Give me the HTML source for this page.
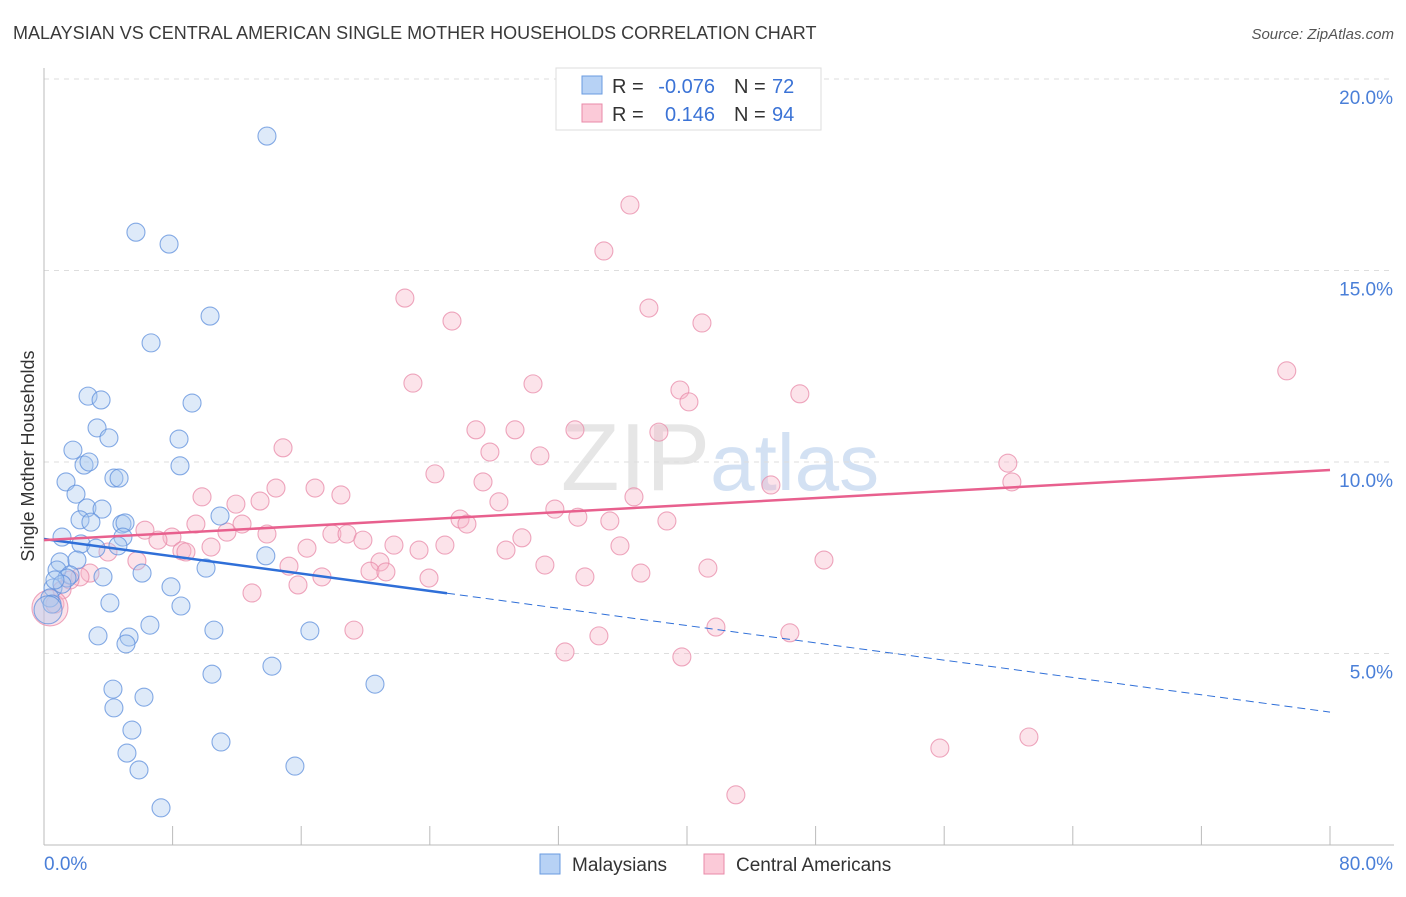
<!DOCTYPE html>
<html><head><meta charset="utf-8"><style>
body{margin:0;background:#fff;font-family:"Liberation Sans",sans-serif}
svg text{font-family:"Liberation Sans",sans-serif}
</style></head><body>
<svg id="chart" width="1406" height="892" xmlns="http://www.w3.org/2000/svg">
<text x="13" y="39" font-size="18" fill="#3a3a3a">MALAYSIAN VS CENTRAL AMERICAN SINGLE MOTHER HOUSEHOLDS CORRELATION CHART</text>
<text x="1394" y="39" font-size="15" fill="#555" text-anchor="end" font-style="italic">Source: ZipAtlas.com</text>
<text x="720" y="490" font-size="96" text-anchor="middle" fill="#e6e6e6" font-family="Liberation Serif">ZIP<tspan fill="#d3e1f3" font-family="Liberation Sans" font-size="80">atlas</tspan></text>
<g id="grid"></g><g id="axes"></g><g id="pts"></g><g id="trend"></g>
<text transform="translate(34,456) rotate(-90)" font-size="18" fill="#333" text-anchor="middle">Single Mother Households</text>
<g>
<rect x="556" y="68" width="265" height="62" fill="#fff" stroke="#ddd"/>
<rect x="582" y="76" width="20" height="18" fill="#b7d2f5" stroke="#6a9be0"/>
<rect x="582" y="104" width="20" height="18" fill="#fbcad8" stroke="#e88aa8"/>
<text x="612" y="93" font-size="20" fill="#333">R =</text>
<text x="715" y="93" font-size="20" fill="#3b73d6" text-anchor="end">-0.076</text>
<text x="734" y="93" font-size="20" fill="#333">N =</text>
<text x="772" y="93" font-size="20" fill="#3b73d6">72</text>
<text x="612" y="121" font-size="20" fill="#333">R =</text>
<text x="715" y="121" font-size="20" fill="#3b73d6" text-anchor="end">0.146</text>
<text x="734" y="121" font-size="20" fill="#333">N =</text>
<text x="772" y="121" font-size="20" fill="#3b73d6">94</text>
</g>
<g>
<rect x="540" y="854" width="20" height="20" fill="#b7d2f5" stroke="#6a9be0"/>
<text x="572" y="871" font-size="19" fill="#333">Malaysians</text>
<rect x="704" y="854" width="20" height="20" fill="#fbcad8" stroke="#e88aa8"/>
<text x="736" y="871" font-size="19" fill="#333">Central Americans</text>
</g>
</svg>
<script>
const yTicks=[5,10,15,20];
const yTickLabels=["5.0%","10.0%","15.0%","20.0%"];
const xTickVals=[0,8,16,24,32,40,48,56,64,72,80];
const blueX=[13.87,5.72,7.78,10.33,6.66,2.74,3.55,9.21,3.30,8.40,4.04,1.80,2.49,2.80,8.46,1.37,4.35,4.67,1.99,2.67,3.61,10.95,2.24,2.92,4.85,5.04,1.12,4.91,2.30,4.60,3.23,13.8,1.0,2.05,10.08,0.81,6.10,1.62,3.67,1.43,7.9,0.56,1.12,0.37,4.1,8.52,0.5,6.59,3.36,10.57,16.54,5.29,5.1,14.18,10.45,20.59,4.29,6.22,4.35,5.47,11.01,5.16,15.61,5.91,7.28,0.68,0.25];
const blueY=[18.51,16.0,15.69,13.81,13.11,11.72,11.62,11.54,10.89,10.60,10.63,10.31,9.92,10.0,9.90,9.48,9.58,9.58,9.16,8.80,8.77,8.59,8.49,8.43,8.38,8.41,8.04,8.04,7.86,7.81,7.75,7.55,7.39,7.44,7.23,7.18,7.10,7.05,7.0,6.97,6.74,6.71,6.81,6.45,6.32,6.24,6.29,5.74,5.46,5.61,5.59,5.43,5.25,4.67,4.46,4.2,4.07,3.86,3.58,3.0,2.69,2.40,2.06,1.96,0.97,6.92,6.14];
const pinkX=[36.45,34.83,22.45,37.63,25.38,40.93,77.31,22.95,30.42,39.56,47.02,40.12,26.87,29.3,33.03,38.25,14.87,27.74,30.85,59.96,24.32,60.21,27.31,14.43,16.86,45.22,9.83,18.47,36.70,28.30,11.94,13.44,31.78,25.88,33.21,35.2,38.75,9.45,26.31,12.32,6.28,11.38,13.87,17.91,18.85,7.96,7.09,19.84,29.73,24.94,21.77,10.39,16.36,23.33,35.83,28.74,8.58,8.83,3.98,5.78,48.52,20.9,31.16,15.24,41.30,20.28,21.27,37.13,17.29,33.65,23.95,15.80,12.94,2.86,2.24,1.62,1.12,0.68,0.37,19.28,41.80,46.40,34.52,32.41,39.68,55.73,61.27,43.04];
const pinkY=[16.71,15.51,14.28,14.02,13.68,13.63,12.38,12.06,12.04,11.88,11.78,11.57,10.84,10.84,10.84,10.78,10.37,10.26,10.16,9.97,9.69,9.48,9.48,9.32,9.32,9.40,9.09,9.14,9.09,8.96,8.90,8.98,8.77,8.51,8.56,8.46,8.46,8.38,8.38,8.38,8.22,8.17,8.12,8.12,8.12,8.04,7.96,7.96,8.02,7.83,7.83,7.78,7.75,7.70,7.81,7.70,7.68,7.65,7.65,7.42,7.44,7.39,7.31,7.28,7.23,7.15,7.13,7.10,7.0,7.0,6.97,6.79,6.58,7.10,7.0,6.92,6.66,6.29,6.19,5.61,5.69,5.54,5.46,5.04,4.91,2.53,2.82,1.31];
const blueTrend=[7.99,3.47];const blueSolidEnd=25.07;
const pinkTrend=[7.96,9.79];
const NS="http://www.w3.org/2000/svg";
const sx=v=>44+v/80*1286, sy=v=>845-v*38.3;
function mk(parent,tag,attrs){const e=document.createElementNS(NS,tag);for(const k in attrs)e.setAttribute(k,attrs[k]);document.getElementById(parent).appendChild(e);return e;}
yTicks.forEach((t,i)=>{
 const l=mk('grid','line',{x1:44,x2:1394,y1:sy(t),y2:sy(t),stroke:'#ddd','stroke-dasharray':'5,5'});
 
 
 const tx=mk('axes','text',{x:1393,y:sy(t)+25,'font-size':19,fill:'#4a7fd8','text-anchor':'end'});
 tx.textContent=yTickLabels[i];
 
 
});
const ax=mk('axes','line',{x1:44,x2:44,y1:68,y2:845,stroke:'#bbb'});


const bx=mk('axes','line',{x1:44,x2:1394,y1:845,y2:845,stroke:'#bbb'});


xTickVals.forEach(v=>{const t=mk('axes','line',{x1:sx(v),x2:sx(v),y1:845,y2:826,stroke:'#bbb'});
 
 });
const x0=mk('axes','text',{x:44,y:870,'font-size':19,fill:'#4a7fd8'});x0.textContent='0.0%';


const x1=mk('axes','text',{x:1393,y:870,'font-size':19,fill:'#4a7fd8','text-anchor':'end'});x1.textContent='80.0%';


function pts(X,Y,fill,stroke,name,bigIdx,bigR){X.forEach((x,i)=>{
 const c=mk('pts','circle',{cx:sx(x),cy:sy(Y[i]),r:i===bigIdx?bigR:9,fill:fill,'fill-opacity':0.38,stroke:stroke,'stroke-opacity':0.75,'stroke-width':1.1});
 
 
});}
pts(pinkX,pinkY,'#f7b6c9','#e88aa8','central-american-point',78,18);
pts(blueX,blueY,'#a8c8f0','#5d8fdc','malaysian-point',66,14);
let t1=mk('trend','line',{x1:sx(0),y1:sy(blueTrend[0]),x2:sx(blueSolidEnd),y2:sy(blueTrend[0]+(blueTrend[1]-blueTrend[0])*blueSolidEnd/80),stroke:'#2f6fd8','stroke-width':2.5});


let t2=mk('trend','line',{x1:sx(blueSolidEnd),y1:sy(blueTrend[0]+(blueTrend[1]-blueTrend[0])*blueSolidEnd/80),x2:sx(80),y2:sy(blueTrend[1]),stroke:'#2f6fd8','stroke-width':1,'stroke-dasharray':'8,5'});


let t3=mk('trend','line',{x1:sx(0),y1:sy(pinkTrend[0]),x2:sx(80),y2:sy(pinkTrend[1]),stroke:'#e8608e','stroke-width':2.5});


</script>
</body></html>
